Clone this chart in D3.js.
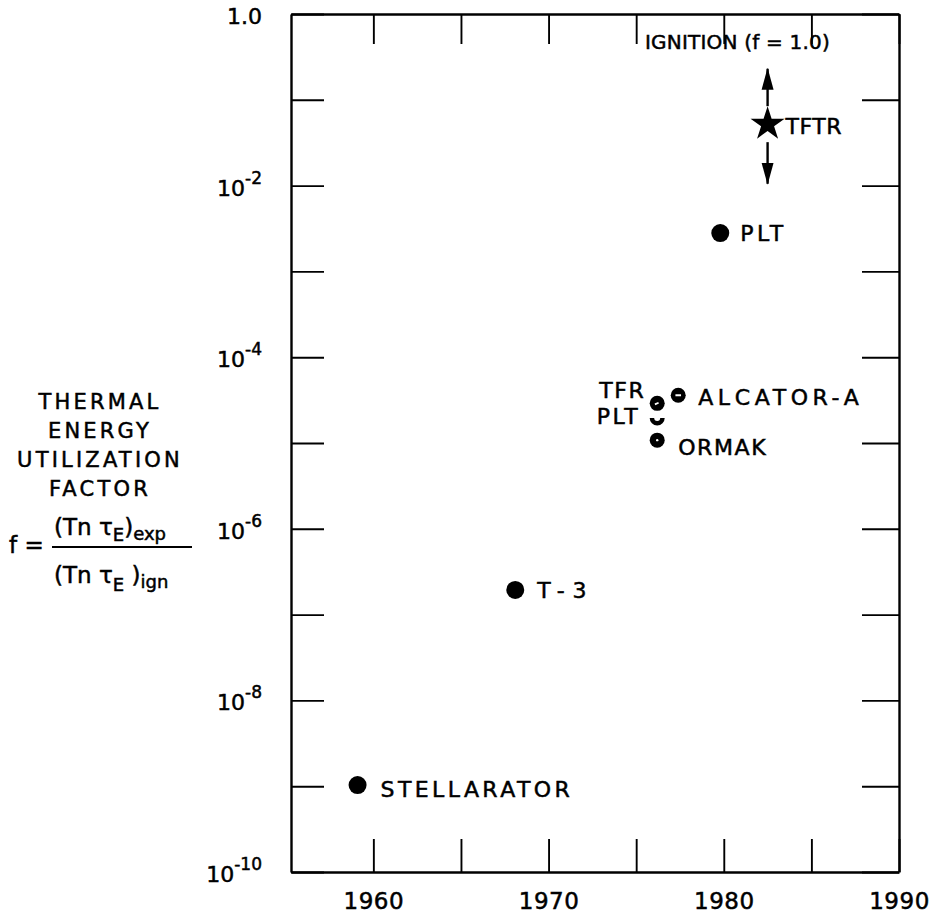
<!DOCTYPE html>
<html>
<head>
<meta charset="utf-8">
<script src="https://cdn.jsdelivr.net/npm/d3@7"></script>
<style>
  html, body { margin: 0; padding: 0; background: #fff; }
  svg { display: block; }
  text { font-family: "DejaVu Sans", sans-serif; fill: #000; stroke: #000; stroke-width: 0.5px; }
</style>
</head>
<body>
<svg id="chart" width="939" height="915"></svg>
<script>
// ---- data ----
const devices = ["STELLARATOR", "T-3", "TFR", "PLT", "ALCATOR-A", "ORMAK", "PLT", "TFTR"];
const years   = [1959.1, 1968.1, 1976.2, 1976.2, 1977.4, 1976.2, 1979.8, 1982.5];
const fValues = [1.03e-9, 1.94e-7, 2.9e-5, 1.96e-5, 3.6e-5, 1.08e-5, 2.8e-3, 5.2e-2];
const markerKinds = ["dot", "dot", "ringTick", "crescent", "ringDash", "ringDot", "dot", "star"];
const tftrArrowRange = [1.05e-2, 0.23];
const xTicks = [1960, 1965, 1970, 1975, 1980, 1985, 1990];
const xTickLabels = ["1960", "", "1970", "", "1980", "", "1990"];
const yTicks = [1, 1e-1, 1e-2, 1e-3, 1e-4, 1e-5, 1e-6, 1e-7, 1e-8, 1e-9, 1e-10];
const yTickExps = [0, null, -2, null, -4, null, -6, null, -8, null, -10];
const ignitionLabel = "IGNITION (f = 1.0)";
const titleLines = ["THERMAL", "ENERGY", "UTILIZATION", "FACTOR"];

// ---- layout ----
const L = 291, R = 899, T = 14, B = 872;
const svg = d3.select("#chart");
const x = d3.scaleLinear().domain([1955.3, 1990]).range([L, R]);
const y = d3.scaleLog().domain([1e-10, 1]).range([B, T]);

// label placement (layout only)
const labelLayout = [
  {dx: 23, dy: 12, anchor: "start", ls: 3.4},   // STELLARATOR
  {dx: 22, dy: 8, anchor: "start", ls: 8},      // T-3
  {dx: -12, dy: -5, anchor: "end", ls: 1.5},    // TFR
  {dx: -17, dy: 6, anchor: "end", ls: 2.5},     // PLT small
  {dx: 20, dy: 10, anchor: "start", ls: 4.6},   // ALCATOR-A
  {dx: 21, dy: 15, anchor: "start", ls: 1.6},   // ORMAK
  {dx: 20, dy: 8, anchor: "start", ls: 3.5},    // PLT
  {dx: 18, dy: 10, anchor: "start", ls: 0.5}    // TFTR
];

// ---- axes ----
const tickLen = 33;
const gBottom = svg.append("g").attr("transform", `translate(0,${B})`)
  .call(d3.axisBottom(x).tickValues(xTicks).tickSizeInner(-tickLen).tickSizeOuter(0)
    .tickFormat((d, i) => xTickLabels[i]));
const gTop = svg.append("g").attr("transform", `translate(0,${T})`)
  .call(d3.axisTop(x).tickValues(xTicks).tickSizeInner(-30).tickSizeOuter(0).tickFormat(""));
const gLeft = svg.append("g").attr("transform", `translate(${L},0)`)
  .call(d3.axisLeft(y).tickValues(yTicks).tickSizeInner(-tickLen).tickSizeOuter(0).tickFormat(""));
const gRight = svg.append("g").attr("transform", `translate(${R},0)`)
  .call(d3.axisRight(y).tickValues(yTicks).tickSizeInner(-37).tickSizeOuter(0).tickFormat(""));

[gBottom, gTop, gLeft, gRight].forEach(g => {
  g.selectAll(".domain").attr("stroke", "#000").attr("stroke-width", 2.4);
  g.selectAll(".tick line").attr("stroke", "#000").attr("stroke-width", 1.9);
});
gBottom.selectAll(".tick text")
  .attr("y", 20).attr("dy", "0.72em")
  .style("font-size", "23px").style("font-family", "DejaVu Sans, sans-serif")
  .style("letter-spacing", "0.5px").attr("fill", "#000");

// y tick labels with superscripts
const yl = svg.append("g");
yTicks.forEach((v, i) => {
  const e = yTickExps[i];
  if (e === null) return;
  const t = yl.append("text").attr("text-anchor", "end")
    .attr("x", L - 29).attr("y", y(v) + 10).style("font-size", "22px");
  if (e === 0) {
    t.attr("x", L - 29).attr("y", y(v) + 10).text("1.0");
  } else {
    t.append("tspan").text("10");
    t.append("tspan").attr("dy", -12).style("font-size", "17px").text("-" + Math.abs(e));
  }
});

// ---- y axis title ----
const tg = svg.append("g");
titleLines.forEach((s, i) => {
  tg.append("text").attr("x", 100).attr("y", 409 + i * 29)
    .attr("text-anchor", "middle").style("font-size", "21px").style("letter-spacing", "3.2px").text(s);
});
tg.append("text").attr("x", 9).attr("y", 553).style("font-size", "23px").text("f =");
const num = tg.append("text").attr("x", 54).attr("y", 535).style("font-size", "23px");
num.append("tspan").text("(Tn ");
num.append("tspan").text("τ");
num.append("tspan").attr("dy", 6).style("font-size", "18px").text("E");
num.append("tspan").attr("dy", -6).text(")");
num.append("tspan").attr("dy", 5).style("font-size", "18px").text("exp");
tg.append("line").attr("x1", 52).attr("x2", 192).attr("y1", 547).attr("y2", 547)
  .attr("stroke", "#000").attr("stroke-width", 2.2);
const den = tg.append("text").attr("x", 54).attr("y", 583).style("font-size", "23px");
den.append("tspan").text("(Tn ");
den.append("tspan").text("τ");
den.append("tspan").attr("dy", 8).style("font-size", "18px").text("E");
den.append("tspan").attr("dy", -8).text(" )");
den.append("tspan").attr("dy", 5).style("font-size", "18px").text("ign");

// ---- markers ----
const mg = svg.append("g");
devices.forEach((name, i) => {
  const cx = x(years[i]), cy = y(fValues[i]);
  const k = markerKinds[i];
  const g = mg.append("g").attr("transform", `translate(${cx},${cy})`);
  if (k === "dot") {
    g.append("circle").attr("r", 9).attr("fill", "#000");
  } else if (k === "star") {
    g.append("path").attr("d", d3.symbol().type(d3.symbolStar).size(360)()).attr("fill", "#000");
  } else if (k === "crescent") {
    g.append("path").attr("d", d3.arc().innerRadius(3).outerRadius(7.5)
      .startAngle(Math.PI / 2).endAngle(3 * Math.PI / 2)()).attr("fill", "#000");
  } else {
    g.append("circle").attr("r", 7.5).attr("fill", "#000");
    if (k === "ringDash") g.append("rect").attr("x", -2.8).attr("y", -1).attr("width", 5.6).attr("height", 2).attr("fill", "#fff");
    if (k === "ringDot") g.append("circle").attr("r", 1.2).attr("fill", "#fff");
    if (k === "ringTick") g.append("rect").attr("x", -2.5).attr("y", -0.9).attr("width", 4).attr("height", 1.8)
      .attr("transform", "rotate(-25)").attr("fill", "#fff");
  }
  const lay = labelLayout[i];
  mg.append("text").attr("x", cx + lay.dx).attr("y", cy + lay.dy)
    .attr("text-anchor", lay.anchor).style("font-size", "22px").style("letter-spacing", lay.ls + "px")
    .text(name);
});

// TFTR arrows
const ti = devices.length - 1;
const ax = x(years[ti]);
const defs = svg.append("defs");
defs.append("marker").attr("id", "ah").attr("viewBox", "0 0 22 13").attr("refX", 21).attr("refY", 6.5)
  .attr("markerWidth", 22).attr("markerHeight", 13).attr("markerUnits", "userSpaceOnUse").attr("orient", "auto")
  .append("path").attr("d", "M0,0.5 L22,6.5 L0,12.5 Z").attr("fill", "#000");
svg.append("line").attr("x1", ax).attr("x2", ax)
  .attr("y1", y(fValues[ti]) - 18).attr("y2", y(tftrArrowRange[1]))
  .attr("stroke", "#000").attr("stroke-width", 2.4).attr("marker-end", "url(#ah)");
svg.append("line").attr("x1", ax).attr("x2", ax)
  .attr("y1", y(fValues[ti]) + 18).attr("y2", y(tftrArrowRange[0]))
  .attr("stroke", "#000").attr("stroke-width", 2.4).attr("marker-end", "url(#ah)");

// ignition label
svg.append("text").attr("x", 645).attr("y", 49).style("font-size", "20px").style("letter-spacing", "0.2px")
  .text(ignitionLabel);
</script>
</body>
</html>
